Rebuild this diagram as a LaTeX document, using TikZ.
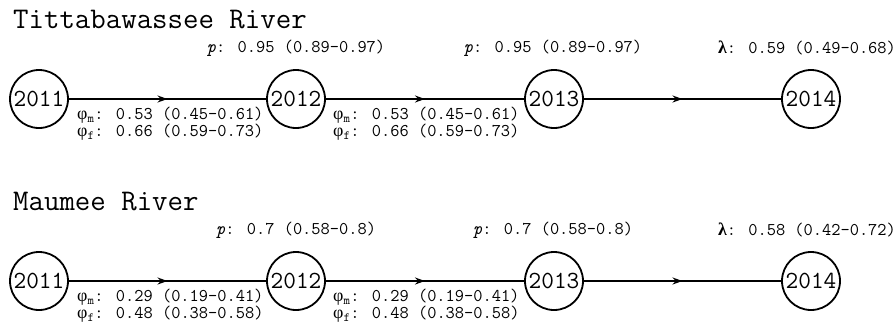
\documentclass[tikz,border=0pt]{standalone}
\usepackage{fontspec}
\newfontfamily\grk{Liberation Serif}
\usetikzlibrary{arrows.meta,decorations.markings}

% survival / detection / growth labels
\newcommand{\phim}{{\grk φ}\textsubscript{m}}
\newcommand{\phif}{{\grk φ}\textsubscript{f}}
\newcommand{\pdet}{\textit{p}}
\newcommand{\lam}{{\grk\bfseries λ}}

\begin{document}
\begin{tikzpicture}[x=1pt,y=-1pt,
  year/.style={circle, draw, line width=1.8pt, minimum size=58pt, inner sep=0pt,
    font=\ttfamily\fontsize{24.6}{27}\selectfont},
  flow/.style={line width=1.8pt, postaction={decorate},
    decoration={markings, mark=at position 0.5 with {\arrow{Stealth[length=10pt,width=7pt]}}}},
  title/.style={anchor=base west, inner sep=0pt, font=\ttfamily\fontsize{30}{34}\selectfont},
  lab/.style={inner sep=0pt, font=\ttfamily\fontsize{17.9}{17}\selectfont},
  sub/.style={lab, anchor=west, align=left},
]
\useasboundingbox (0,0) rectangle (895,325);

% ---------------- Tittabawassee River ----------------
\node[title] (t1) at (13,28) {Tittabawassee River};

\node[year] (a11) at (39,99)  {2011};
\node[year] (a12) at (296,99) {2012};
\node[year] (a13) at (554,99) {2013};
\node[year] (a14) at (811,99) {2014};

\draw[flow] (a11) -- (a12);
\draw[flow] (a12) -- (a13);
\draw[flow] (a13) -- (a14);

\node[lab] (ap2) at (296,48) {\pdet: 0.95 (0.89-0.97)};
\node[lab] (ap3) at (553,48) {\pdet: 0.95 (0.89-0.97)};
\node[lab] (al4) at (807,48) {\lam: 0.59 (0.49-0.68)};

\node[sub] (as1) at (77,124)  {\phim: 0.53 (0.45-0.61)\\\phif: 0.66 (0.59-0.73)};
\node[sub] (as2) at (333,124) {\phim: 0.53 (0.45-0.61)\\\phif: 0.66 (0.59-0.73)};

% ---------------- Maumee River ----------------
\node[title] (t2) at (13,210) {Maumee River};

\node[year] (b11) at (39,281)  {2011};
\node[year] (b12) at (296,281) {2012};
\node[year] (b13) at (554,281) {2013};
\node[year] (b14) at (811,281) {2014};

\draw[flow] (b11) -- (b12);
\draw[flow] (b12) -- (b13);
\draw[flow] (b13) -- (b14);

\node[lab] (bp2) at (296,230) {\pdet: 0.7 (0.58-0.8)};
\node[lab] (bp3) at (553,230) {\pdet: 0.7 (0.58-0.8)};
\node[lab] (bl4) at (807,230) {\lam: 0.58 (0.42-0.72)};

\node[sub] (bs1) at (77,306)  {\phim: 0.29 (0.19-0.41)\\\phif: 0.48 (0.38-0.58)};
\node[sub] (bs2) at (333,306) {\phim: 0.29 (0.19-0.41)\\\phif: 0.48 (0.38-0.58)};
\end{tikzpicture}
\end{document}
